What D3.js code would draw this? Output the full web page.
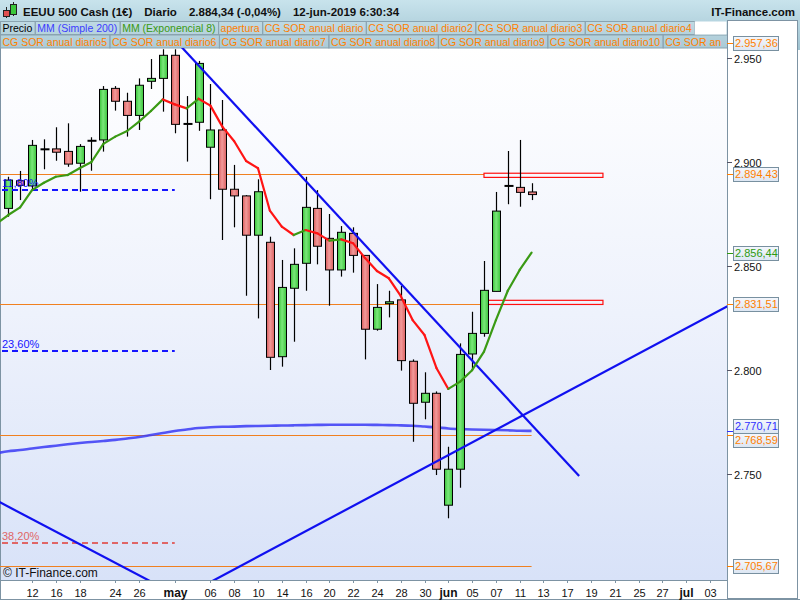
<!DOCTYPE html>
<html><head><meta charset="utf-8">
<script src="https://cdn.jsdelivr.net/npm/d3@7"></script>
<style>body{margin:0;background:#fff}svg{display:block;font-family:"Liberation Sans",Arial,sans-serif}</style>
</head><body><svg id="c" width="800" height="600"></svg>
<script>
// ---------------- DATA ----------------
const tradingDays = ["2019-04-09","2019-04-10","2019-04-11","2019-04-12","2019-04-15","2019-04-16","2019-04-17","2019-04-18","2019-04-22","2019-04-23","2019-04-24","2019-04-25","2019-04-26","2019-04-29","2019-04-30","2019-05-01","2019-05-02","2019-05-03","2019-05-06","2019-05-07","2019-05-08","2019-05-09","2019-05-10","2019-05-13","2019-05-14","2019-05-15","2019-05-16","2019-05-17","2019-05-20","2019-05-21","2019-05-22","2019-05-23","2019-05-24","2019-05-27","2019-05-28","2019-05-29","2019-05-30","2019-05-31","2019-06-03","2019-06-04","2019-06-05","2019-06-06","2019-06-07","2019-06-10","2019-06-11","2019-06-12","2019-06-13","2019-06-14","2019-06-17","2019-06-18","2019-06-19","2019-06-20","2019-06-21","2019-06-24","2019-06-25","2019-06-26","2019-06-27","2019-06-28","2019-07-01","2019-07-02","2019-07-03"];

// candles: 2019-04-10 .. 2019-06-12
const candleDays = tradingDays.slice(1, 46);
const opens  = [2877.7,2891.0,2888.5,2906.1,2906.3,2905.1,2899.4,2910.2,2910.6,2935.4,2929.2,2922.4,2938.8,2940.2,2951.3,2918.3,2919.1,2907.1,2915.4,2886.9,2883.7,2864.8,2861.4,2806.4,2839.3,2851.3,2877.7,2863.3,2848.1,2865.7,2855.1,2819.6,2831.9,2833.7,2804.2,2784.5,2788.8,2735.0,2752.3,2807.7,2817.6,2837.8,2888.5,2887.8,2885.6];
const highs  = [2892.9,2895.7,2910.6,2910.9,2916.7,2918.6,2908.6,2911.9,2936.5,2936.5,2933.3,2940.2,2949.5,2954.2,2954.2,2931.7,2948.6,2937.5,2929.8,2898.6,2884.1,2891.7,2864.1,2852.9,2858.5,2892.9,2886.5,2875.0,2869.2,2868.6,2855.1,2841.3,2838.1,2840.4,2805.1,2798.9,2789.7,2763.1,2812.8,2828.0,2852.4,2885.6,2905.3,2910.6,2889.8];
const lows   = [2873.7,2881.7,2887.0,2896.5,2900.6,2897.7,2885.7,2895.8,2905.0,2924.7,2912.2,2915.4,2935.1,2924.2,2913.8,2900.2,2915.0,2882.1,2862.5,2868.6,2835.7,2824.8,2800.0,2801.6,2813.6,2838.1,2850.8,2830.9,2844.9,2846.8,2805.1,2818.9,2825.3,2799.7,2765.5,2776.3,2749.5,2728.7,2743.4,2800.0,2816.0,2837.8,2879.7,2878.5,2881.7];
const closes = [2891.3,2888.8,2908.0,2906.1,2904.7,2899.0,2907.5,2910.2,2934.9,2929.2,2922.4,2936.9,2940.2,2951.3,2918.1,2918.3,2947.4,2915.4,2886.9,2883.7,2864.8,2885.7,2806.1,2839.7,2850.8,2878.2,2859.5,2848.1,2866.2,2855.1,2819.6,2830.1,2832.8,2804.5,2784.0,2788.8,2752.3,2752.3,2807.5,2817.6,2838.3,2876.4,2888.5,2885.4,2884.34];

// moving averages: 2019-04-09 .. 2019-06-12
const maDays = tradingDays.slice(0, 46);
const ema8 = [2870.2,2874.5,2878.2,2886.5,2890.0,2892.9,2893.75,2897.0,2900.0,2908.7,2912.2,2914.9,2919.4,2924.5,2930.1,2927.7,2925.8,2930.4,2927.1,2917.0,2910.0,2900.5,2897.0,2876.6,2868.9,2864.9,2867.3,2865.7,2862.2,2862.8,2860.9,2853.8,2847.6,2844.1,2835.6,2824.0,2816.8,2801.0,2790.9,2794.4,2799.9,2808.8,2824.0,2838.1,2848.1,2856.44];
const sma200 = [2760.0,2760.9,2761.5,2762.3,2763.0,2763.6,2764.3,2764.9,2765.4,2765.9,2766.4,2767.1,2767.8,2768.75,2769.7,2770.7,2771.4,2772.1,2772.5,2772.7,2772.8,2773.0,2773.1,2773.2,2773.3,2773.4,2773.5,2773.6,2773.7,2773.7,2773.7,2773.7,2773.6,2773.5,2773.4,2773.2,2772.8,2772.4,2771.9,2771.6,2771.4,2771.25,2771.15,2771.0,2770.8,2770.71];

// trend lines: [date1, value1, date2, value2, extend]
const trendLines = [
  ["2019-05-01", 2958.8, "2019-06-18", 2749.0, false],
  ["2019-05-13", 2713.3, "2019-06-12", 2780.4, true],
  ["2019-04-12", 2728.3, "2019-04-26", 2701.3, true]
];

// horizontal "CG SOR" levels: value, end date
const levelValues = [2894.43, 2831.51, 2768.59, 2705.67];
const levelEnds   = ["2019-06-06", "2019-06-06", "2019-06-12", "2019-06-12"];
// zones (rectangles): top, bottom, start, end
const zoneTops    = [2894.6, 2833.5];
const zoneBottoms = [2892.6, 2831.51];
const zoneStart = "2019-06-06", zoneEnd = "2019-06-20";

// fibonacci retracement levels
const fibLabels = ["11,80%", "23,60%", "38,20%"];
const fibValues = [2886.5, 2809.3, 2716.7];
const fibColors = ["#1515ff", "#1515ff", "#e06666"];
const fibEnd = "2019-05-01";

// right axis
const yTicks = [2750, 2800, 2850, 2900, 2950];
const markerValues = [2957.36, 2894.43, 2856.44, 2831.51, 2770.71, 2768.59, 2705.67];
const markerColors = ["#ff7f00", "#ff7f00", "#2e9a10", "#ff7f00", "#3030ff", "#ff7f00", "#ff7f00"];

// bottom axis
const tickDates = ["2019-04-12","2019-04-16","2019-04-18","2019-04-24","2019-04-26","2019-05-01","2019-05-06","2019-05-08","2019-05-10","2019-05-14","2019-05-16","2019-05-20","2019-05-22","2019-05-24","2019-05-28","2019-05-30","2019-06-03","2019-06-05","2019-06-07","2019-06-11","2019-06-13","2019-06-17","2019-06-19","2019-06-21","2019-06-25","2019-06-27","2019-07-01","2019-07-03"];
const tickTexts = ["12","16","18","24","26","may","06","08","10","14","16","20","22","24","28","30","jun","05","07","11","13","17","19","21","25","27","jul","03"];

// legend
const legendNames  = ["Precio","MM (Simple 200)","MM (Exponencial 8)","apertura","CG SOR anual diario","CG SOR anual diario2","CG SOR anual diario3","CG SOR anual diario4","CG SOR anual diario5","CG SOR anual diario6","CG SOR anual diario7","CG SOR anual diario8","CG SOR anual diario9","CG SOR anual diario10","CG SOR anual diario11"];
const legendColors = ["#000000","#3c3cff","#3a9a10","#ff7f00","#ff7f00","#ff7f00","#ff7f00","#ff7f00","#ff7f00","#ff7f00","#ff7f00","#ff7f00","#ff7f00","#ff7f00","#ff7f00"];

const titleParts = ["EEUU 500 Cash (1€)", "Diario", null, "12-jun-2019 6:30:34"];

// ---------------- CHART ----------------
const loc = d3.formatLocale({decimal: ",", thousands: ".", grouping: [3], currency: ["", ""], minus: "-"});
const f2 = loc.format(",.2f"), f0 = loc.format(",.0f");
const plot = {l: 0, t: 48, r: 727, b: 580};
const svg = d3.select("#c");
const defs = svg.append("defs");

function vgrad(id, stops, horiz) {
  const g = defs.append("linearGradient").attr("id", id)
    .attr("x1", 0).attr("y1", 0).attr("x2", horiz ? 1 : 0).attr("y2", horiz ? 0 : 1);
  stops.forEach(([o, c]) => g.append("stop").attr("offset", o).attr("stop-color", c));
}
vgrad("hdr", [[0, "#c8e3ec"], [1, "#9ec2d0"]]);
vgrad("plotbg", [[0, "#ffffff"], [0.5, "#eef2fc"], [1, "#d8e2f8"]]);
vgrad("gup", [[0, "#38c238"], [0.45, "#7ae87a"], [1, "#3cc43c"]], true);
vgrad("gdn", [[0, "#d85c5c"], [0.45, "#f29a9a"], [1, "#da6060"]], true);
vgrad("lbl", [[0, "#f4f7fc"], [1, "#dce6f3"]]);
defs.append("clipPath").attr("id", "clip").append("rect")
  .attr("x", plot.l).attr("y", plot.t).attr("width", plot.r - plot.l).attr("height", plot.b - plot.t);

const x = d3.scalePoint().domain(tradingDays).range([-3.685, 710.0]);
const y = d3.scaleLinear().domain([2800, 2950]).range([370, 58]);

// backgrounds
svg.append("rect").attr("width", 800).attr("height", 600).attr("fill", "#ffffff");
svg.append("rect").attr("width", 800).attr("height", 50).attr("fill", "url(#hdr)");
svg.append("rect").attr("x", 727.5).attr("y", 20.5).attr("width", 70).attr("height", 578)
  .attr("fill", "#ffffff").attr("stroke", "#7d93a3");
svg.append("rect").attr("x", plot.l).attr("y", plot.t).attr("width", plot.r - plot.l).attr("height", plot.b - plot.t)
  .attr("fill", "url(#plotbg)");
svg.append("rect").attr("x", 0).attr("y", plot.b).attr("width", 727).attr("height", 19.5).attr("fill", "#ffffff");
svg.append("line").attr("x1", 0).attr("x2", 800).attr("y1", 599.5).attr("y2", 599.5).attr("stroke", "#7d93a3");
svg.append("line").attr("x1", 0.5).attr("x2", 0.5).attr("y1", plot.t).attr("y2", 600).attr("stroke", "#7d93a3");
svg.append("line").attr("x1", 0).attr("x2", 727).attr("y1", plot.b + 0.5).attr("y2", plot.b + 0.5).attr("stroke", "#7d93a3");

// title
const icon = svg.append("g");
icon.append("line").attr("x1", 6.5).attr("x2", 6.5).attr("y1", 7).attr("y2", 18).attr("stroke", "#222");
icon.append("rect").attr("x", 3.5).attr("y", 10.5).attr("width", 6).attr("height", 6).attr("fill", "#e05050").attr("stroke", "#222");
icon.append("line").attr("x1", 13.5).attr("x2", 13.5).attr("y1", 2).attr("y2", 16).attr("stroke", "#222");
icon.append("rect").attr("x", 10.5).attr("y", 4.5).attr("width", 6).attr("height", 10).attr("fill", "#3cc83c").attr("stroke", "#222");
const last = closes[closes.length - 1], prev = closes[closes.length - 2];
const pct = (last - prev) / prev * 100;
const titleTxt = [titleParts[0], titleParts[1], f2(last) + " (" + loc.format(",.2f")(pct) + "%)", titleParts[3]];
const tt = svg.append("text").attr("y", 16).attr("font-size", 11.5).attr("font-weight", "bold").attr("fill", "#111");
let tx = 23;
titleTxt.forEach((t, i) => {
  const s = tt.append("tspan").attr("x", tx).text(t);
  tx += s.node().getComputedTextLength() + 12;
});
svg.append("text").attr("x", 795).attr("y", 16).attr("text-anchor", "end").attr("font-size", 11.5)
  .attr("font-weight", "bold").attr("fill", "#111").text("IT-Finance.com");

// legend (two rows, second row cut at the plot's right edge)
const leg = svg.append("g");
let lx = 0, row = 0;
const rowY = [21, 34.5], rowH = 13;
legendNames.forEach((n, i) => {
  const t = leg.append("text").attr("font-size", 10.5).attr("fill", legendColors[i]).text(n);
  let w = t.node().getComputedTextLength() + 5;
  if (row === 0 && lx + w > 727) {
    leg.append("rect").attr("x", lx + 0.5).attr("y", rowY[0] + 0.5).attr("width", 727 - lx - 1).attr("height", rowH)
      .attr("fill", "#ffffff");
    row = 1; lx = 0;
  }
  if (lx + w > 727) {
    let s = n;
    while (s.length > 1 && t.text(s).node().getComputedTextLength() + 3 > 727 - lx) s = s.slice(0, -1);
    w = 727 - lx;
  }
  leg.insert("rect", "text").attr("x", lx + 0.5).attr("y", rowY[row] + 0.5).attr("width", w).attr("height", rowH)
    .attr("fill", "#ffffff").attr("fill-opacity", 0.12).attr("stroke", "#8aa3b0");
  t.attr("x", lx + 2.5).attr("y", rowY[row] + 11);
  lx += w;
});

// plot content
const g = svg.append("g").attr("clip-path", "url(#clip)");

// horizontal levels
levelValues.forEach((v, i) => {
  g.append("line").attr("x1", plot.l).attr("x2", x(levelEnds[i])).attr("y1", Math.round(y(v)) + 0.5).attr("y2", Math.round(y(v)) + 0.5)
    .attr("stroke", "#f08020").attr("stroke-width", 1);
});
zoneTops.forEach((v, i) => {
  g.append("rect").attr("x", x(zoneStart)).attr("y", y(v)).attr("width", x(zoneEnd) - x(zoneStart))
    .attr("height", y(zoneBottoms[i]) - y(v)).attr("fill", "none").attr("stroke", "#ff1010").attr("stroke-width", 1.2);
});

// SMA 200
g.append("path").datum(sma200)
  .attr("d", d3.line().x((d, i) => x(maDays[i])).y(d => y(d)).curve(d3.curveMonotoneX))
  .attr("fill", "none").attr("stroke", "#3a3af5").attr("stroke-width", 2.6).attr("stroke-opacity", 0.85);

// candles
candleDays.forEach((d, i) => {
  const cx = Math.round(x(d));
  const o = opens[i], c = closes[i];
  g.append("line").attr("x1", cx + 0.5).attr("x2", cx + 0.5).attr("y1", y(highs[i])).attr("y2", y(lows[i]))
    .attr("stroke", "#000").attr("stroke-width", 1.2);
  const top = y(Math.max(o, c)), bot = y(Math.min(o, c));
  if (bot - top < 1.2) {
    g.append("rect").attr("x", cx - 3.5).attr("y", (top + bot) / 2 - 1).attr("width", 9).attr("height", 2).attr("fill", "#000");
  } else {
    g.append("rect").attr("x", cx - 3.5).attr("y", top).attr("width", 8).attr("height", bot - top)
      .attr("fill", c >= o ? "url(#gup)" : "url(#gdn)").attr("stroke", "#000").attr("stroke-width", 1);
  }
});

// fibonacci (drawn over the candles)
fibValues.forEach((v, i) => {
  const yy = Math.round(y(v));
  g.append("line").attr("x1", plot.l + 2).attr("x2", x(fibEnd)).attr("y1", yy).attr("y2", yy)
    .attr("stroke", fibColors[i]).attr("stroke-width", 2).attr("stroke-dasharray", "6,4");
  g.append("text").attr("x", 2).attr("y", yy - 3).attr("font-size", 11).attr("fill", fibColors[i]).text(fibLabels[i]);
});

// trend lines
trendLines.forEach(([d1, v1, d2, v2, ext]) => {
  let x1 = x(d1), y1 = y(v1), x2 = x(d2), y2 = y(v2);
  if (ext) {
    const m = (y2 - y1) / (x2 - x1);
    const xa = plot.l - 20, xb = plot.r + 20;
    y1 = y1 + (xa - x1) * m; x1 = xa;
    y2 = y2 + (xb - x2) * m; x2 = xb;
  }
  g.append("line").attr("x1", x1).attr("y1", y1).attr("x2", x2).attr("y2", y2)
    .attr("stroke", "#1010f0").attr("stroke-width", 2.2);
});

// EMA 8 (green rising, red falling)
for (let i = 1; i < ema8.length; i++) {
  g.append("line").attr("x1", x(maDays[i - 1])).attr("y1", y(ema8[i - 1])).attr("x2", x(maDays[i])).attr("y2", y(ema8[i]))
    .attr("stroke", ema8[i] >= ema8[i - 1] ? "#3a9a14" : "#ff1414").attr("stroke-width", 2.2).attr("stroke-linecap", "round");
}

svg.append("text").attr("x", 3).attr("y", 577).attr("font-size", 12).attr("fill", "#111").text("© IT-Finance.com");

// right axis
svg.append("line").attr("x1", 727.5).attr("x2", 727.5).attr("y1", 20).attr("y2", 600).attr("stroke", "#7d93a3");
const ax = svg.append("g");
yTicks.forEach(v => {
  const yy = Math.round(y(v)) + 0.5;
  ax.append("line").attr("x1", 727).attr("x2", 732).attr("y1", yy).attr("y2", yy).attr("stroke", "#556");
  ax.append("text").attr("x", 734).attr("y", yy + 4).attr("font-size", 11).attr("fill", "#111").text(f0(v));
});
// value markers with overlap avoidance
const markers = markerValues.map((v, i) => ({v, c: markerColors[i], yy: y(v), ly: y(v)})).sort((a, b) => a.yy - b.yy);
for (let k = 1; k < markers.length; k++) {
  const a = markers[k - 1], b = markers[k];
  if (b.ly - a.ly < 14.5) { const mid = (a.ly + b.ly) / 2; a.ly = mid - 7.25; b.ly = mid + 7.25; }
}
markers.forEach(m => {
  ax.append("line").attr("x1", 727).attr("x2", 733).attr("y1", Math.round(m.yy) + 0.5).attr("y2", Math.round(m.yy) + 0.5).attr("stroke", m.c);
  ax.append("rect").attr("x", 733.5).attr("y", Math.round(m.ly - 7) + 0.5).attr("width", 45).attr("height", 14)
    .attr("fill", "url(#lbl)").attr("stroke", "#7890a0");
  ax.append("text").attr("x", 735).attr("y", Math.round(m.ly) + 4).attr("font-size", 11).attr("fill", m.c).text(f2(m.v));
});

// bottom axis
tickDates.forEach((d, i) => {
  const xx = Math.round(x(d)) + 0.5;
  svg.append("line").attr("x1", xx).attr("x2", xx).attr("y1", plot.b).attr("y2", plot.b + 3).attr("stroke", "#7d93a3");
  const bold = isNaN(+tickTexts[i]);
  svg.append("text").attr("x", xx).attr("y", 597).attr("text-anchor", "middle").attr("font-size", bold ? 12 : 11)
    .attr("font-weight", bold ? "bold" : "normal").attr("fill", "#111").text(tickTexts[i]);
});
</script>
</body></html>
